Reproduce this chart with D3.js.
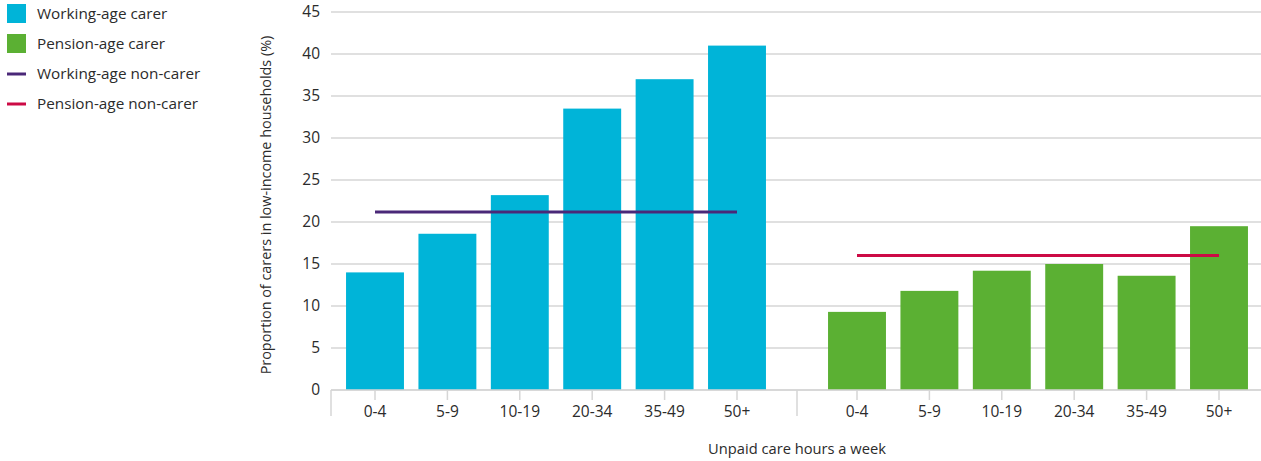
<!DOCTYPE html>
<html>
<head>
<meta charset="utf-8">
<script src="https://cdn.jsdelivr.net/npm/d3@7"></script>
<style>
  html, body { margin: 0; padding: 0; background: #fff; }
  svg { display: block; font-family: "Open Sans", "DejaVu Sans", sans-serif; }
</style>
</head>
<body>
<svg id="chart" width="1261" height="461"></svg>
<script>
// Unpaid care hours bands (shared by both groups)
const hoursBands = ["0-4", "5-9", "10-19", "20-34", "35-49", "50+"];
// Share of carers living in low-income households (%)
const workingAgeCarer = [14.0, 18.6, 23.2, 33.5, 37.0, 41.0];
const pensionAgeCarer = [9.3, 11.8, 14.2, 15.0, 13.6, 19.5];
// Reference levels for people who do not provide care (%)
const workingAgeNonCarer = 21.2;
const pensionAgeNonCarer = 16.0;
const yTicks = [0, 5, 10, 15, 20, 25, 30, 35, 40, 45];
const legendItems = [
  { label: "Working-age carer", kind: "box", color: "#00b4d8" },
  { label: "Pension-age carer", kind: "box", color: "#5bb033" },
  { label: "Working-age non-carer", kind: "line", color: "#4a2878" },
  { label: "Pension-age non-carer", kind: "line", color: "#cc0a45" }
];

const svg = d3.select("#chart");
const plotLeft = 331, plotRight = 1261, plotTop = 12, plotBottom = 390;
const groupSplit = 797;
const textColor = "#2b2b2b";
const gridColor = "#d6d6d6";

const y = d3.scaleLinear().domain([0, 45]).range([plotBottom, plotTop]);

// One band scale per age group
const xWork = d3.scaleBand().domain(hoursBands).range([338.8, 773.2]).paddingInner(0.2).paddingOuter(0.1);
const xPension = d3.scaleBand().domain(hoursBands).range([820.8, 1255.2]).paddingInner(0.2).paddingOuter(0.1);

// Horizontal gridlines
svg.append("g")
  .selectAll("line")
  .data(yTicks)
  .join("line")
  .attr("x1", plotLeft).attr("x2", plotRight)
  .attr("y1", d => y(d)).attr("y2", d => y(d))
  .attr("stroke", gridColor).attr("stroke-width", 1.5);

// Y tick labels
svg.append("g")
  .selectAll("text")
  .data(yTicks)
  .join("text")
  .attr("x", 320).attr("y", d => y(d))
  .attr("dy", "0.35em")
  .attr("text-anchor", "end")
  .attr("font-size", 15.5)
  .attr("fill", textColor)
  .text(d => d);

// Y axis title
svg.append("text")
  .attr("transform", `translate(271,${(plotTop + plotBottom) / 2 + 4}) rotate(-90)`)
  .attr("text-anchor", "middle")
  .attr("font-size", 14.4)
  .attr("fill", textColor)
  .text("Proportion of carers in low-income households (%)");

// Bars
function drawBars(scale, values, color) {
  svg.append("g")
    .selectAll("rect")
    .data(values)
    .join("rect")
    .attr("x", (d, i) => scale(hoursBands[i]))
    .attr("width", scale.bandwidth())
    .attr("y", d => y(d))
    .attr("height", d => y(0) - y(d))
    .attr("fill", color);
}
drawBars(xWork, workingAgeCarer, "#00b4d8");
drawBars(xPension, pensionAgeCarer, "#5bb033");

// Non-carer reference lines spanning the band centres
function drawRef(scale, value, color) {
  const c0 = scale(hoursBands[0]) + scale.bandwidth() / 2;
  const c1 = scale(hoursBands[hoursBands.length - 1]) + scale.bandwidth() / 2;
  svg.append("line")
    .attr("x1", c0).attr("x2", c1)
    .attr("y1", y(value)).attr("y2", y(value))
    .attr("stroke", color).attr("stroke-width", 3);
}
drawRef(xWork, workingAgeNonCarer, "#4a2878");
drawRef(xPension, pensionAgeNonCarer, "#cc0a45");

// X axis baseline and ticks
const xAxis = svg.append("g");
xAxis.append("line")
  .attr("x1", plotLeft).attr("x2", plotRight)
  .attr("y1", plotBottom).attr("y2", plotBottom)
  .attr("stroke", gridColor).attr("stroke-width", 1.5);
[plotLeft, groupSplit].forEach(xp => {
  xAxis.append("line")
    .attr("x1", xp).attr("x2", xp)
    .attr("y1", plotBottom).attr("y2", 416)
    .attr("stroke", gridColor).attr("stroke-width", 1.5);
});
[xWork, xPension].forEach(scale => {
  const g = xAxis.append("g");
  g.selectAll("line")
    .data(hoursBands)
    .join("line")
    .attr("x1", d => scale(d) + scale.bandwidth() / 2)
    .attr("x2", d => scale(d) + scale.bandwidth() / 2)
    .attr("y1", plotBottom).attr("y2", 400)
    .attr("stroke", gridColor).attr("stroke-width", 1.5);
  g.selectAll("text")
    .data(hoursBands)
    .join("text")
    .attr("x", d => scale(d) + scale.bandwidth() / 2)
    .attr("y", 412)
    .attr("dy", "0.35em")
    .attr("text-anchor", "middle")
    .attr("font-size", 15.5)
    .attr("fill", textColor)
    .text(d => d);
});

// X axis title
svg.append("text")
  .attr("x", groupSplit).attr("y", 449)
  .attr("dy", "0.35em")
  .attr("text-anchor", "middle")
  .attr("font-size", 14.7)
  .attr("fill", textColor)
  .text("Unpaid care hours a week");

// Legend
const legend = svg.append("g");
legendItems.forEach((item, i) => {
  const cy = 14 + i * 30;
  if (item.kind === "box") {
    legend.append("rect")
      .attr("x", 7).attr("y", cy - 10).attr("width", 19).attr("height", 19)
      .attr("fill", item.color);
  } else {
    legend.append("line")
      .attr("x1", 7).attr("x2", 26).attr("y1", cy).attr("y2", cy)
      .attr("stroke", item.color).attr("stroke-width", 3);
  }
  legend.append("text")
    .attr("x", 37).attr("y", cy)
    .attr("dy", "0.35em")
    .attr("font-size", 15.3)
    .attr("fill", textColor)
    .text(item.label);
});
</script>
</body>
</html>
